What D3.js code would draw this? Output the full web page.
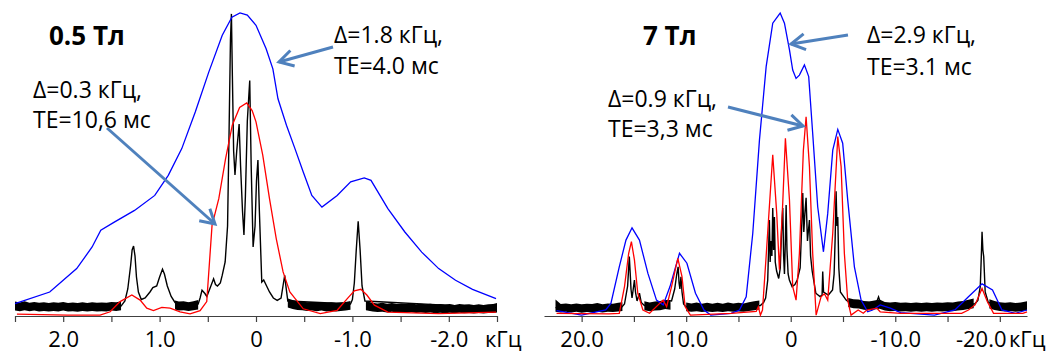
<!DOCTYPE html>
<html>
<head>
<meta charset="utf-8">
<script src="https://cdn.jsdelivr.net/npm/d3@7"></script>
<style>
  html, body { margin: 0; padding: 0; background: #fff; }
  svg { display: block; }
  text { font-family: "Open Sans", "DejaVu Sans", sans-serif; fill: #000; }
</style>
</head>
<body>
<div id="chart"></div>
<script>
// NMR spectra at 0.5 T and 7 T: measured (black) and two simulated widths (red, blue)
// points are [frequency kHz, intensity 0..100]

// ---- left panel (0.5 Тл) ----
const leftTicks = [2.5, 2, 1.5, 1, 0.5, 0, -0.5, -1, -1.5, -2, -2.5];
const leftLabels = [2, 1, 0, -1, -2];

const blueLeft = [[2.5,4.1],[2.14,8],[1.86,15.8],[1.7,23],[1.61,28.6],[1.47,31.3],[1.26,35.2],[1.05,40.2],
  [0.91,46.9],[0.77,55.8],[0.63,68],[0.49,81.3],[0.35,93.6],[0.25,99.6],[0.166,101],[0.09,100.3],[0,96.9],
  [-0.105,89.1],[-0.175,82.4],[-0.228,72.4],[-0.316,63.6],[-0.404,55.8],[-0.49,48],[-0.579,40.2],[-0.684,36.3],
  [-0.842,40.2],[-0.982,44.7],[-1.123,46],[-1.193,45.2],[-1.368,35.8],[-1.544,28],[-1.719,21.3],[-1.895,15.8],
  [-2.07,11.9],[-2.246,8.9],[-2.49,5.8]];

const redLeft = [[2.48,0.6],[1.96,0.3],[1.617,0.3],[1.513,1.4],[1.41,4.8],[1.288,7],[1.202,5.3],[1.133,2.6],
  [1.064,1.8],[0.977,2.9],[0.891,2.6],[0.788,1.4],[0.684,0.7],[0.58,1.8],[0.511,4.8],[0.456,30.2],[0.386,39.1],
  [0.316,52.4],[0.246,63.6],[0.17,69.5],[0.096,71],[0.04,68.5],[0,64.7],[-0.07,53.6],[-0.14,39.1],[-0.21,25.8],
  [-0.281,14.7],[-0.351,8],[-0.49,2.4],[-0.667,0.8],[-0.842,1.9],[-0.947,5.8],[-1.02,8.4],[-1.088,8.9],
  [-1.15,7],[-1.228,3.6],[-1.368,1.3],[-1.895,0.8],[-2.49,1.3]];

const blackLeft = [[2.5,3.3],[1.40,3.3],[1.36,5],[1.33,9],[1.30,17],[1.285,22],[1.27,23.3],[1.255,20],[1.24,13],
  [1.22,8],[1.19,5.5],[1.15,6],[1.10,8],[1.07,9.5],[1.03,10],[1.00,13],[0.97,15.6],[0.95,14],[0.92,10],[0.88,6.5],
  [0.84,4.5],[0.60,4],[0.58,6],[0.56,8.6],[0.53,7.5],[0.51,6.5],[0.48,9],[0.44,12.4],[0.42,10.5],[0.40,10],
  [0.37,11],[0.35,13.6],[0.32,18],[0.295,30],[0.28,60],[0.265,92],[0.255,100.7],[0.245,80],[0.232,55],
  [0.218,47],[0.2,55],[0.175,64],[0.16,50],[0.14,35],[0.125,27],[0.11,40],[0.09,65],[0.065,78.5],[0.05,50],
  [0.03,23],[0.01,30],[-0.005,45],[-0.02,52],[-0.035,35],[-0.06,11.3],[-0.08,12],[-0.11,10],[-0.14,8],
  [-0.18,6],[-0.22,5.2],[-0.26,6],[-0.28,10],[-0.298,13.6],[-0.31,10],[-0.33,5],[-0.98,4],[-1.00,5.5],
  [-1.02,11],[-1.04,22],[-1.06,31.6],[-1.08,22],[-1.10,10],[-1.13,5],[-2.5,2.7]];

// baseline noise band of the measured trace: [kHz, low, high]
const noiseLeft = [[2.50,1.8,4.8],[2.45,1.6,4.5],[2.40,1.9,4.9],[2.35,1.6,4.4],[2.30,1.8,4.7],[2.25,1.5,4.4],
  [2.20,1.7,4.6],[2.15,1.5,4.3],[2.10,1.7,4.6],[2.05,1.5,4.4],[2.00,1.8,4.7],[1.95,1.5,4.3],[1.90,1.6,4.5],
  [1.85,1.4,4.3],[1.80,1.7,4.6],[1.75,1.5,4.3],[1.70,1.7,4.6],[1.65,1.5,4.4],[1.60,1.6,4.5],[1.55,1.5,4.4],
  [1.50,1.8,4.7],[1.45,1.7,4.6],[1.40,1.9,4.9], null,
  [0.84,2.2,5.2],[0.80,1.8,4.8],[0.75,1.9,4.9],[0.70,1.7,4.6],[0.65,1.9,4.9],[0.60,2.2,5.3], null,
  [-0.33,2.8,5.8],[-0.38,2.3,5.3],[-0.43,2.0,5.0],[-0.48,1.9,4.9],[-0.53,1.7,4.6],[-0.58,1.8,4.7],
  [-0.63,1.6,4.5],[-0.68,1.8,4.7],[-0.73,1.5,4.4],[-0.78,1.7,4.6],[-0.83,1.5,4.4],[-0.88,1.7,4.6],
  [-0.93,1.8,4.7],[-0.98,2.1,5.0], null,
  [-1.14,1.9,4.9],[-1.21,1.5,4.4],[-1.26,1.3,4.2],[-1.31,1.4,4.4],[-1.36,1.2,4.1],[-1.41,1.4,4.3],
  [-1.46,1.1,4.0],[-1.51,1.3,4.2],[-1.56,1.1,4.0],[-1.61,1.3,4.2],[-1.66,1.0,3.9],[-1.71,1.2,4.1],
  [-1.76,1.0,3.9],[-1.81,1.2,4.1],[-1.86,0.9,3.8],[-1.91,1.1,4.0],[-1.96,0.9,3.8],[-2.01,1.1,4.0],
  [-2.06,0.9,3.7],[-2.11,1.1,4.0],[-2.16,0.9,3.8],[-2.21,1.0,3.9],[-2.26,0.8,3.7],[-2.31,1.0,3.9],
  [-2.36,0.8,3.7],[-2.41,1.0,3.9],[-2.46,1.0,4.0],[-2.50,1.2,4.3]];

// ---- right panel (7 Тл) ----
const rightTicks = [20, 15, 10, 5, 0, -5, -10, -15, -20];
const rightLabels = [20, 10, 0, -10, -20];

const blueRight = [[22.4,1.8],[20,0.3],[17.7,2],[17.2,4.2],[16.4,16.4],[15.76,25.3],[15.18,29.4],[14.47,25.3],
  [13.66,14.2],[12.84,5.3],[12.2,3.7],[11.55,9.8],[10.64,20.9],[9.93,17.6],[9.11,7.6],[8.3,2],[7.65,0.3],
  [5.7,0.9],[4.9,2],[4.26,6.4],[3.63,27.6],[2.99,58.7],[2.35,83.1],[1.72,97.6],[1.01,101],[0.6,97.6],
  [0.12,88.7],[-0.19,82],[-0.51,79.2],[-0.83,80.3],[-1.31,83.7],[-1.72,79.8],[-2.1,60.9],[-2.58,36.4],
  [-3.13,21.4],[-3.54,34.2],[-4.02,55.3],[-4.5,62.2],[-4.97,57.6],[-5.45,38.7],[-6.09,16.4],[-6.73,5.3],
  [-7.36,1.4],[-7.84,2],[-8.56,3.7],[-9.53,2.6],[-10.5,1.1],[-13.75,0.3],[-15.7,2],[-17,6.4],[-18.3,10.7],
  [-19.3,8.7],[-20.2,2],[-21.5,0.9],[-22.6,2]];

const redRight = [[22.4,0.9],[17.4,0.7],[16.4,0.9],[15.9,9.8],[15.5,20.9],[15.24,24.8],[14.95,18.7],[14.63,7.6],
  [14.14,2],[13.5,0.9],[12.68,3.7],[12.2,5.3],[11.87,3.1],[11.4,9.8],[10.8,19.2],[10.4,13.1],[10.1,3.1],
  [9.6,0.3],[5.7,0.9],[3.3,1.5],[3.1,3.1],[2.9,0.3],[2.7,2],[2.35,20],[1.72,53.7],[1.34,34.2],[1.08,15.4],
  [0.76,38],[0.51,59.2],[0.12,38.6],[-0.19,9.8],[-0.51,5.3],[-0.83,20.9],[-1.21,55.3],[-1.47,66.4],
  [-1.79,49.8],[-2.1,20.9],[-2.43,0.3],[-2.9,6.4],[-3.22,7.4],[-3.54,5.3],[-4.02,27.6],[-4.5,59.8],
  [-4.82,49.8],[-5.13,20.9],[-5.45,5.3],[-5.77,0.3],[-6.45,2],[-6.94,0.9],[-7.27,2],[-8.24,2.6],[-8.56,1.4],
  [-10.5,0.9],[-16.35,0.9],[-17,2],[-17.63,3.7],[-18.3,9.2],[-18.8,4.8],[-19.4,0.9],[-22.2,0.9],[-22.6,1.4]];

const blackRight = [[22.5,2.8],[16.2,2.8],[15.9,4],[15.6,10],[15.44,19.8],[15.35,14],[15.28,9],[15.18,6],
  [15.1,8],[14.95,12],[14.85,8],[14.7,5],[14.47,7.6],[14.3,4.5],[14.0,3.5],[12.2,4.5],[11.8,5.2],[11.4,5],
  [11.1,9],[10.9,14],[10.77,16.4],[10.68,11],[10.6,9],[10.5,13.1],[10.4,8],[10.25,4],[10.0,3],[2.9,3.5],
  [2.6,4.5],[2.4,6],[2.2,12],[2.04,32],[1.97,18],[1.88,25],[1.8,20],[1.72,36],[1.64,22],[1.56,33],[1.48,18],
  [1.35,15],[1.15,12.5],[1.0,16],[0.88,28],[0.76,36],[0.68,20],[0.6,14],[0.52,24],[0.44,37],[0.36,22],
  [0.25,14],[0.13,12],[-0.13,9.8],[-0.4,10.5],[-0.62,12],[-0.9,16],[-1.05,30],[-1.15,41],[-1.25,28],
  [-1.35,34],[-1.47,39.4],[-1.6,25],[-1.79,32],[-1.9,20],[-2.05,15],[-2.4,7.6],[-2.8,6.5],[-3.0,7],
  [-3.06,14.8],[-3.14,8],[-3.6,7],[-4.0,8.7],[-4.15,14],[-4.25,26],[-4.34,41.6],[-4.42,30],[-4.5,33],
  [-4.6,16],[-4.75,8],[-5.3,5.3],[-5.6,4.5],[-8.2,4.5],[-8.4,6.4],[-8.6,4.2],[-17.6,4.0],[-17.9,5.2],
  [-18.13,9.8],[-18.25,22],[-18.3,28.1],[-18.38,22],[-18.46,19.8],[-18.6,8],[-18.9,4.5],[-22.6,3]];

const noiseRight = [[22.5,1.4,5.5],[22.0,1.2,4.0],[21.5,1.4,4.2],[21.0,1.2,3.9],[20.5,1.4,4.2],[20.0,1.1,3.9],
  [19.5,1.3,4.1],[19.0,1.2,4.0],[18.5,1.4,4.3],[18.0,1.2,3.9],[17.5,1.4,4.2],[17.0,1.3,4.1],[16.5,1.5,4.4],
  [16.1,1.7,4.6], null,
  [14.0,1.9,4.9],[13.5,1.6,4.5],[13.0,1.8,4.8],[12.5,1.9,5.0],[12.0,2.3,5.4],[11.5,2.1,5.1], null,
  [10.0,1.6,4.5],[9.5,1.4,4.2],[9.0,1.6,4.5],[8.5,1.3,4.1],[8.0,1.5,4.4],[7.5,1.3,4.1],[7.0,1.5,4.4],
  [6.5,1.3,4.1],[6.0,1.6,4.5],[5.5,1.4,4.2],[5.0,1.5,4.4],[4.5,1.4,4.2],[4.0,1.7,4.6],[3.5,1.9,4.9],
  [3.0,2.2,5.2], null,
  [-5.5,3.0,6.0],[-6.0,2.6,5.6],[-6.5,2.5,5.5],[-7.0,2.1,5.0],[-7.5,1.9,4.8],[-8.0,2.2,5.2],[-8.5,2.4,5.5],
  [-9.0,1.8,4.7],[-9.5,1.6,4.5],[-10.0,1.7,4.7],[-10.5,1.5,4.4],[-11.0,1.6,4.5],[-11.5,1.4,4.3],
  [-12.0,1.6,4.5],[-12.5,1.4,4.3],[-13.0,1.6,4.5],[-13.5,1.4,4.3],[-14.0,1.6,4.5],[-14.5,1.5,4.4],
  [-15.0,1.7,4.6],[-15.5,1.6,4.5],[-16.0,1.8,4.8],[-16.5,2.0,5.0],[-17.0,2.3,5.4],[-17.5,2.6,5.8], null,
  [-19.0,2.5,5.6],[-19.5,2.0,5.0],[-20.0,1.7,4.6],[-20.5,1.5,4.4],[-21.0,1.7,4.6],[-21.5,1.4,4.3],
  [-22.0,1.6,4.5],[-22.6,1.8,4.9]];

// ---- layout ----
const W = 1058, H = 353;
const axisY = 316;
const labelY = 347;
const arrowColor = "#4f81bd";

const svg = d3.select("#chart").append("svg")
  .attr("width", W).attr("height", H);

svg.append("defs").append("marker")
  .attr("id", "head")
  .attr("markerUnits", "userSpaceOnUse")
  .attr("viewBox", "-16 -10 20 20")
  .attr("markerWidth", 20).attr("markerHeight", 20)
  .attr("refX", 0).attr("refY", 0)
  .attr("orient", "auto")
  .append("path")
  .attr("d", "M-14,-8 L0,0 L-14,8")
  .attr("fill", "none")
  .attr("stroke", arrowColor)
  .attr("stroke-width", 3);

const y = d3.scaleLinear().domain([0, 100]).range([axisY, 16]);

function drawPanel(cfg) {
  const x = d3.scaleLinear().domain(cfg.domain).range(cfg.range);
  const g = svg.append("g");

  // axis: minor ticks every half step, labels on the main ones
  const axis = d3.axisBottom(x)
    .tickValues(cfg.ticks)
    .tickSizeInner(6).tickSizeOuter(0)
    .tickFormat(d => cfg.labels.includes(d) ? (d === 0 ? "0" : d.toFixed(1)) : "");
  const ag = g.append("g").attr("transform", `translate(0,${axisY})`).call(axis);
  ag.select(".domain").attr("stroke", "#404040").attr("stroke-width", 1.2);
  ag.selectAll(".tick line").attr("stroke", "#404040").attr("stroke-width", 1.2);
  ag.selectAll(".tick text")
    .attr("y", labelY - axisY).attr("dy", 0)
    .style("font-family", '"Open Sans", sans-serif')
    .style("font-size", "22px").attr("fill", "#000");
  // last label squeezed left so the unit fits after it
  if (cfg.lastLabelEnd) {
    ag.selectAll(".tick text").filter(d => d === cfg.labels[cfg.labels.length - 1])
      .attr("text-anchor", "end")
      .attr("x", cfg.lastLabelEnd - x(cfg.labels[cfg.labels.length - 1]));
  }

  g.append("text").attr("x", cfg.unitX).attr("y", labelY)
    .style("font-size", "22px").text("кГц");

  const line = d3.line().x(d => x(d[0])).y(d => y(d[1]));
  const band = d3.area().defined(d => d !== null)
    .x(d => x(d[0])).y0(d => y(d[1])).y1(d => y(d[2]));

  g.append("path").datum(cfg.noise).attr("d", band).attr("fill", "#000");
  g.append("path").datum(cfg.black).attr("d", line)
    .attr("fill", "none").attr("stroke", "#000").attr("stroke-width", 1.4);
  g.append("path").datum(cfg.blue).attr("d", line)
    .attr("fill", "none").attr("stroke", "#0000ff").attr("stroke-width", 1.3);
  g.append("path").datum(cfg.red).attr("d", line)
    .attr("fill", "none").attr("stroke", "#ff0000").attr("stroke-width", 1.3);

  // title and annotations
  g.append("text").attr("x", cfg.title[0]).attr("y", cfg.title[1])
    .style("font-size", "26px").style("font-weight", "bold").text(cfg.title[2]);
  cfg.notes.forEach(n => {
    g.append("text").attr("x", n[0]).attr("y", n[1])
      .style("font-size", "23px").text(n[2]);
  });
  cfg.arrows.forEach(a => {
    g.append("line")
      .attr("x1", a[0]).attr("y1", a[1]).attr("x2", a[2]).attr("y2", a[3])
      .attr("stroke", arrowColor).attr("stroke-width", 3)
      .attr("marker-end", "url(#head)");
  });
}

drawPanel({
  domain: [2.5, -2.5], range: [15, 497],
  ticks: leftTicks, labels: leftLabels, unitX: 485,
  black: blackLeft, red: redLeft, blue: blueLeft, noise: noiseLeft,
  title: [49, 45, "0.5 Тл"],
  notes: [[334, 43, "Δ=1.8 кГц,"], [334, 74, "TE=4.0 мс"],
          [33, 98, "Δ=0.3 кГц,"], [33, 128, "TE=10,6 мс"]],
  arrows: [[333, 47, 279, 62], [107, 128, 215, 224]]
});

drawPanel({
  domain: [23.6, -22.6], range: [544, 1027],
  ticks: rightTicks, labels: rightLabels, unitX: 1009, lastLabelEnd: 1006,
  black: blackRight, red: redRight, blue: blueRight, noise: noiseRight,
  title: [643, 45, "7 Тл"],
  notes: [[867, 43, "Δ=2.9 кГц,"], [867, 75, "TE=3.1 мс"],
          [608, 107, "Δ=0.9 кГц,"], [608, 137, "TE=3,3 мс"]],
  arrows: [[848, 35, 791, 44], [728, 107, 803, 126]]
});
</script>
</body>
</html>
